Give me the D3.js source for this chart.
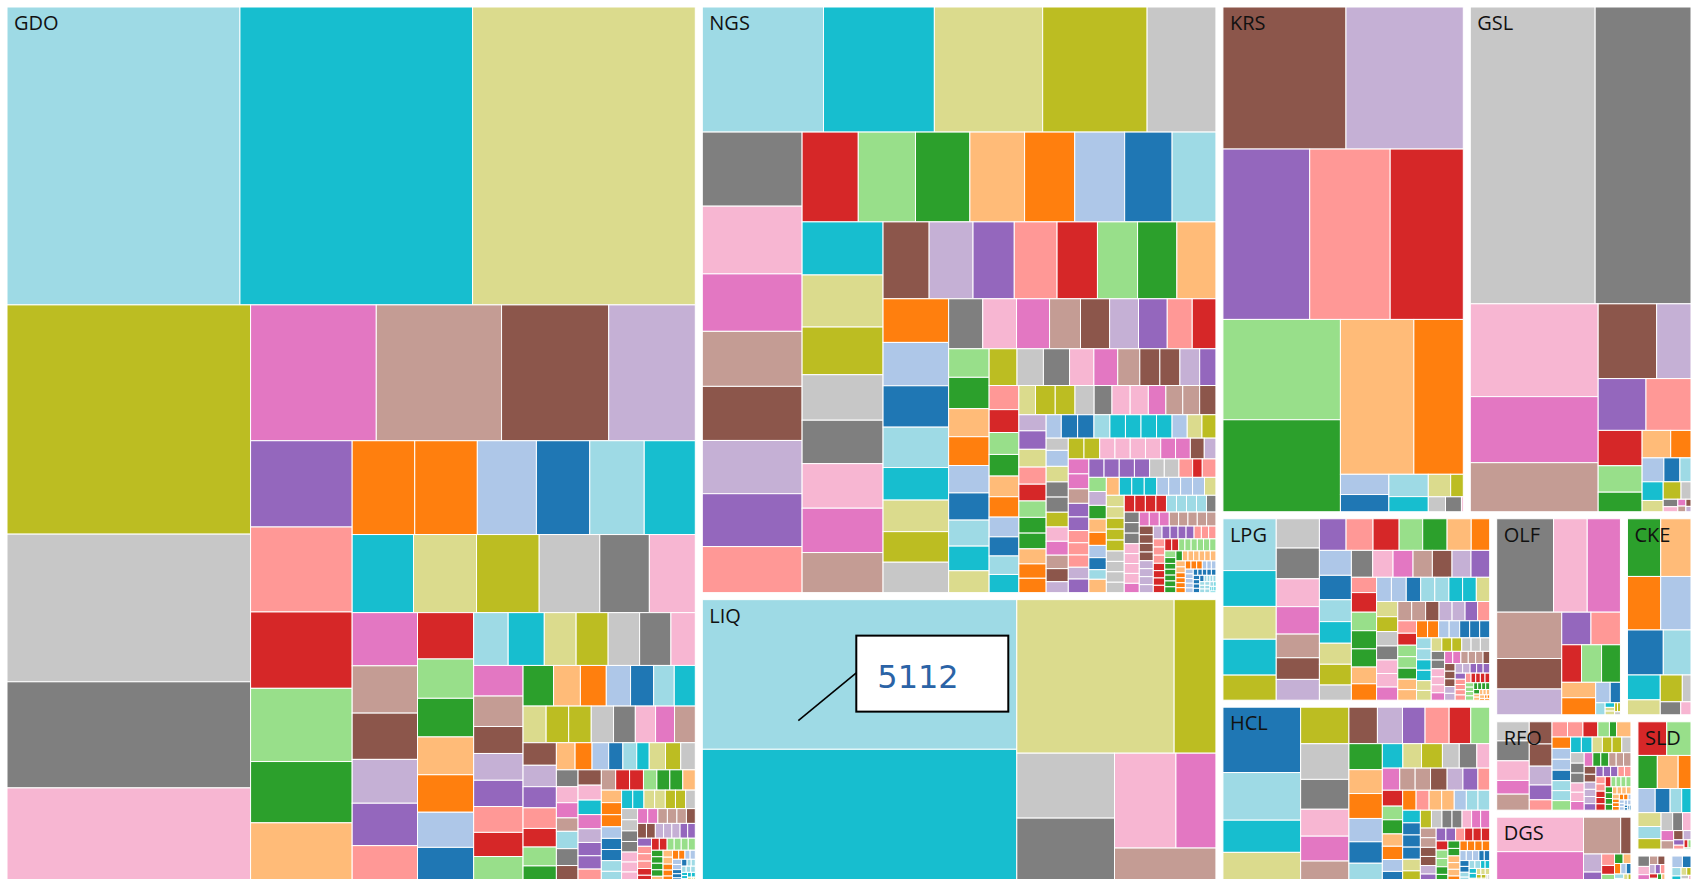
<!DOCTYPE html>
<html>
<head>
<meta charset="utf-8">
<script src="https://cdnjs.cloudflare.com/ajax/libs/d3/7.8.5/d3.min.js"></script>
<style>
  body { margin: 0; background: #fff; overflow: hidden; }
  .group-label { font-family: 'Open Sans', sans-serif; font-size: 20px; fill: #111; }
  .tip-box { fill: #fff; stroke: #000; stroke-width: 2; }
  .tip-text { font-family: 'DejaVu Sans', sans-serif; font-size: 32px; fill: #2b63a6; }
  .tip-line { stroke: #000; stroke-width: 1.6; }
</style>
</head>
<body>
<div class="svg-container"></div>
<script>
// product groups, in the order they come in the data
var groups = ['GDO', 'NGS', 'LIQ', 'KRS', 'GSL', 'LPG', 'HCL', 'OLF', 'CKE', 'RFO', 'DGS', 'SLD', 'LUB', 'WAX'];

var gdo = [7388, 7378, 7064,
  5945, 3829, 2752, 2440,
  1818, 1812, 1550, 1252,
  933, 919, 826, 792, 663, 640,
  625, 625, 590, 533, 544, 510,
  510, 524, 521, 504, 412, 382,
  370, 329, 322, 305, 295, 253,
  277, 235, 231, 226, 224, 210, 207,
  194, 203, 179, 180, 177, 176, 137,
  161, 160, 142, 141, 138, 136, 127,
  134, 132, 116, 112, 105, 100, 89,
  91, 90, 88, 88, 87, 85, 79, 74,
  81, 80, 76, 75, 73, 66,
  67, 57, 54, 49, 48, 41, 40, 36,
  47, 44, 42, 39, 37, 35, 31,
  40, 39, 38, 38, 37, 36, 35, 34, 33, 33, 32, 31, 30, 30, 29, 28, 28, 27, 27, 26,
  26, 25, 24, 24, 23, 23, 22, 22, 21, 21, 20, 20, 19, 19, 19, 18, 18, 17, 17, 17,
  16, 16, 15, 15, 15, 14, 14, 14, 13, 13, 13, 12, 12, 12, 11, 11, 11, 10, 10, 10,
  10, 9, 9, 9, 9, 8, 8, 8, 8, 7, 7, 7, 6, 6, 6, 6, 6, 5, 5, 5,
  5, 4, 4, 4, 4, 3, 3, 3, 3, 3, 2, 2, 2, 2, 2, 1, 1, 1, 1];

var ngs = [1626, 1487, 1453, 1401, 923,
  793, 725, 615, 589, 579, 570, 566, 493,
  541, 551, 524, 527, 483, 481, 457, 422,
  461, 452, 414, 395, 377, 387, 385, 348,
  380, 362, 340, 353, 333, 331, 324, 322,
  307, 305, 291, 284, 229, 222, 215, 214,
  183, 181, 177, 166, 156, 155, 154, 134, 127,
  124, 136, 122, 125, 119, 118, 113, 107, 95,
  110, 104, 103, 96, 94, 87, 79, 79, 78, 64,
  77, 73, 70, 69, 66, 65, 63, 61, 59, 58, 52,
  62, 62, 60, 56, 57, 57, 55, 53, 53, 51, 47,
  54, 52, 50, 49, 48, 46, 46, 44, 42, 42, 38,
  41, 41, 40, 39, 39, 39, 39, 38, 37, 35, 29,
  38, 37, 36, 36, 35, 34, 33, 32, 31, 26,
  35, 35, 34, 34, 34, 34, 33, 33, 31, 26,
  33, 33, 32, 30, 30, 27, 27, 27, 26,
  30, 30, 30, 30, 30, 29, 29, 27, 19,
  27, 26.5, 26, 25.5, 25, 24.5, 23, 22.5, 18,
  25, 25, 24, 24, 24, 23, 23, 23, 23, 22, 22, 22, 21, 21, 21, 20, 20, 20, 20,
  19, 19, 19, 19, 18, 18, 18, 18, 17, 17, 17, 17, 16, 16, 16, 16, 15, 15, 15, 15,
  14, 14, 14, 14, 14, 13, 13, 13, 13, 12, 12, 12, 12, 12, 11, 11, 11, 11,
  10, 10, 10, 10, 10, 10, 9, 9, 9, 9, 9, 9, 8, 8, 8, 8, 8, 8, 8,
  7, 7, 7, 7, 7, 7, 7, 6, 6, 6, 6, 6, 6, 6, 6, 5, 5, 5, 5, 5, 5, 5,
  4, 4, 4, 4, 4, 4, 4, 4, 3, 3, 3, 3, 3, 3, 3, 3, 3, 3,
  2, 2, 2, 2, 2, 2, 2, 2, 2, 2, 2, 1, 1, 1, 1, 1];

var liq = [5112, 4533, 2624, 697, 689, 678, 633, 412, 374];

var krs = [1907, 1818, 1613, 1496, 1359, 1286, 1179, 1241, 835, 107, 91, 96, 65, 55, 31, 28, 26, 3];

var gsl = [4053, 3112, 1298, 924, 686, 478, 281, 271, 255, 170, 127, 94, 86, 61,
  57, 42, 29, 43, 26, 34, 19, 12, 8, 6, 5, 4, 3];

var lpg = [308, 213, 195, 213, 149,
  141, 148, 134, 132, 114, 104, 100,
  94, 95, 92, 83, 86, 85, 65,
  89, 87, 78, 77, 75, 74, 54,
  64, 61, 60, 58, 59, 57, 56, 43,
  55, 52, 51, 51, 47, 46, 40,
  40, 39, 38, 38, 37, 37, 36, 36, 35, 34, 33, 32, 32, 31, 30, 30, 29, 28, 28, 27,
  26, 26, 25, 24, 24, 23, 22, 22, 21, 21, 20, 20, 19, 19, 19, 18, 18, 17, 17, 16,
  16, 16, 15, 15, 14, 14, 14, 13, 13, 12, 12, 12, 11, 11, 11, 10, 10, 10, 9, 9,
  9, 9, 8, 8, 8, 8, 7, 7, 7, 7, 6, 6, 6, 6, 6, 5, 5, 5, 5, 4,
  4, 4, 4, 3, 3, 3, 3, 3, 2, 2, 2, 2, 2, 2, 1, 1, 1, 1];

var hcl = [567, 413, 279, 257,
  197, 192, 161, 145, 134, 113,
  116, 102, 92, 98, 88, 77,
  97, 89, 93, 87, 80, 70,
  56, 51, 57, 46, 48, 35,
  43, 38, 38, 41, 39, 37, 29,
  36, 31, 32, 28, 30, 27, 24,
  30, 29, 28, 28, 27, 26, 26, 25, 24, 24, 24, 23, 22, 22, 21, 20, 20, 19, 18, 18,
  17, 17, 16, 16, 15, 14, 14, 14, 13, 12, 12, 12, 12, 11, 11, 10, 10, 10, 10, 9,
  9, 9, 8, 8, 8, 8, 8, 7, 7, 7, 6, 6, 6, 6, 5, 5, 5, 5, 4, 4,
  4, 4, 3, 3, 3, 3, 2, 2, 2, 2, 1, 1, 1];

var olf = [608, 360, 355, 345, 227, 192, 109, 110, 85, 86, 81, 60, 66, 34, 24, 13, 5, 4, 4, 3, 3, 2];

var cke = [231, 210, 214, 195, 194, 150, 98, 59, 71, 28, 32, 16];

var rfo = [74, 77, 76, 53, 62, 60, 60, 51, 40, 28, 28, 28, 27, 21, 13,
  26, 25, 24, 24, 23, 22, 22, 21, 20, 20, 19, 18, 18, 17, 17, 16, 16, 15, 15, 14,
  14, 13, 13, 12, 12, 12, 11, 11, 10, 10, 10, 9, 9, 9, 9, 8, 8, 8, 8, 7,
  7, 7, 7, 6, 6, 6, 6, 5, 5, 5, 5, 4, 4, 4, 4, 4, 3, 3, 3, 3,
  3, 2, 2, 2, 2, 2, 2, 1, 1, 1, 1];

var dgs = [365, 321, 167, 46, 40, 22, 18, 14, 12, 10, 9, 8, 7, 6, 5, 4, 3, 2, 2];

var sld = [121, 102, 80, 86, 53, 52, 45, 35, 28, 40, 35, 30, 26, 22, 19, 16, 13, 11, 9, 7, 5, 4, 3, 1];

var lub = [20, 16, 14, 12, 10, 9, 8, 7, 6, 5, 4, 3, 2, 1];
var wax = [22, 18, 14, 10, 8, 6, 5, 4, 3];

var groupValues = {GDO: gdo, NGS: ngs, LIQ: liq, KRS: krs, GSL: gsl, LPG: lpg, HCL: hcl,
  OLF: olf, CKE: cke, RFO: rfo, DGS: dgs, SLD: sld, LUB: lub, WAX: wax};

// the old category20 colours, d3 v7 no longer ships them
var palette = ['#1f77b4', '#aec7e8', '#ff7f0e', '#ffbb78', '#2ca02c', '#98df8a', '#d62728', '#ff9896',
  '#9467bd', '#c5b0d5', '#8c564b', '#c49c94', '#e377c2', '#f7b6d2', '#7f7f7f', '#c7c7c7',
  '#bcbd22', '#dbdb8d', '#17becf', '#9edae5'];
// palette slot of the first (largest) cell in each group, then it steps backwards
var colorStart = {GDO: 19, NGS: 19, LIQ: 19, KRS: 10, GSL: 15, LPG: 19, HCL: 0,
  OLF: 14, CKE: 4, RFO: 15, DGS: 13, SLD: 6, LUB: 14, WAX: 1};

var width = 1698, height = 889;

var svg = d3.select('.svg-container').append('svg')
  .attr('width', width)
  .attr('height', height);

var data = {
  name: 'root',
  children: groups.map(function (g) {
    return {
      name: g,
      children: groupValues[g].map(function (v, i) {
        return {name: g + ' ' + (i + 1), size: v};
      })
    };
  })
};

var root = d3.hierarchy(data).sum(function (d) { return d.size || 0; });

d3.treemap()
  .tile(d3.treemapSquarify)
  .size([width, height])
  .paddingOuter(function (d) { return d.depth === 0 ? 7 : 0; })
  .paddingInner(function (d) { return d.depth === 0 ? 7 : 0; })(root);

// equal values share a colour, each new value takes the next slot down
var fillOf = new Map();
root.children.forEach(function (g) {
  var seen = new Map(), k = 0;
  g.children.forEach(function (leaf) {
    if (!seen.has(leaf.value)) {
      seen.set(leaf.value, ((colorStart[g.data.name] - k) % 20 + 20) % 20);
      k++;
    }
    fillOf.set(leaf, palette[seen.get(leaf.value)]);
  });
});

svg.selectAll('rect.leaf')
  .data(root.leaves())
  .enter()
  .append('rect')
  .attr('class', 'leaf')
  .attr('x', function (d) { return d.x0; })
  .attr('y', function (d) { return d.y0; })
  .attr('width', function (d) { return Math.max(0, d.x1 - d.x0); })
  .attr('height', function (d) { return Math.max(0, d.y1 - d.y0); })
  .style('fill', function (d) { return fillOf.get(d); })
  .style('stroke', '#fff')
  .style('stroke-width', 1);

svg.selectAll('text.group-label')
  .data(root.children.filter(function (g) { return g.x1 - g.x0 > 40 && g.y1 - g.y0 > 30; }))
  .enter()
  .append('text')
  .attr('class', 'group-label')
  .attr('x', function (d) { return d.x0 + 7; })
  .attr('y', function (d) { return d.y0 + 23; })
  .text(function (d) { return d.data.name; });

// hover tip on the biggest LIQ cell
var liqNode = root.children.find(function (g) { return g.data.name === 'LIQ'; });
var hovered = liqNode.children[0];
var mx = hovered.x0 + 96, my = hovered.y0 + 121;
var bx = mx + 58, by = my - 85, bw = 152, bh = 76;

var tipG = svg.append('g').attr('class', 'tip');
tipG.append('line').attr('class', 'tip-line')
  .attr('x1', mx).attr('y1', my)
  .attr('x2', bx).attr('y2', by + bh * 0.49);
tipG.append('rect').attr('class', 'tip-box')
  .attr('x', bx).attr('y', by).attr('width', bw).attr('height', bh);
tipG.append('text').attr('class', 'tip-text')
  .attr('x', bx + 21).attr('y', by + 52)
  .text(hovered.value);
</script>
</body>
</html>
